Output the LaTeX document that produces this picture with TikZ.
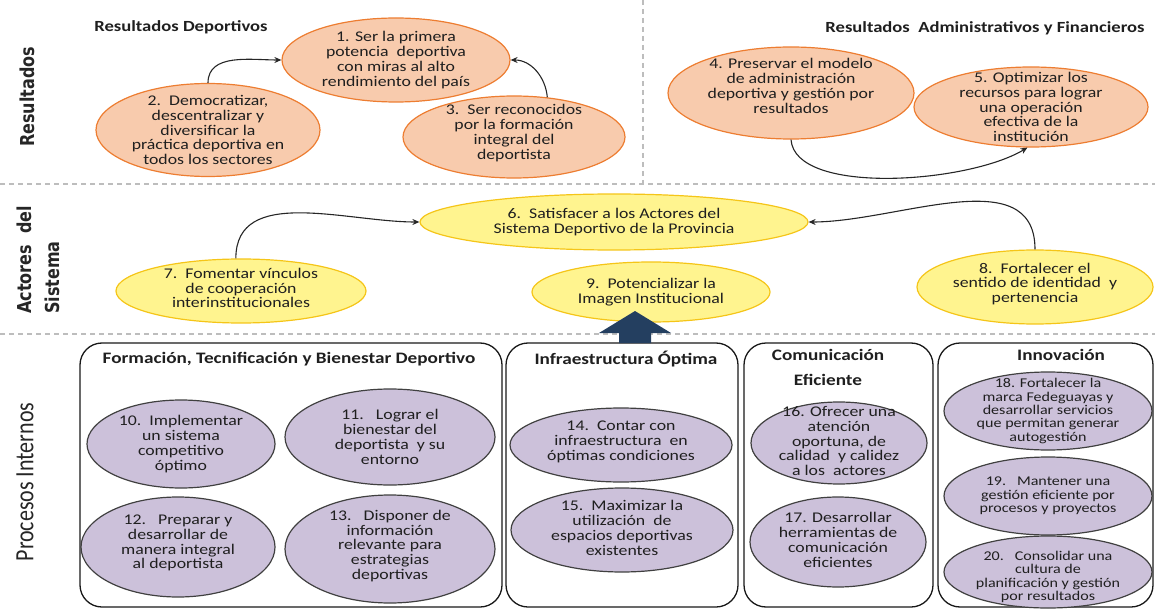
\documentclass[tikz,border=0pt]{standalone}
\usepackage{fontspec}
\setmainfont{Carlito}[FakeStretch=1.2]
\newfontfamily\labfont{DejaVu Sans}
\newfontfamily\calfont{Carlito}
\usetikzlibrary{arrows.meta,shapes.geometric}
\definecolor{orfill}{HTML}{F8CBAD}
\definecolor{ordraw}{HTML}{ED7D31}
\definecolor{yefill}{HTML}{FFF48F}
\definecolor{yedraw}{HTML}{F5C518}
\definecolor{pufill}{HTML}{CCC1DA}
\definecolor{pudraw}{HTML}{404040}
\definecolor{navy}{HTML}{243F60}
\definecolor{sepgray}{HTML}{BDBDBD}
\tikzset{
  ov/.style={ellipse, inner sep=0pt, line width=1.2pt},
  orov/.style={ov, fill=orfill, draw=ordraw},
  yeov/.style={ov, fill=yefill, draw=yedraw},
  puov/.style={ov, fill=pufill, draw=pudraw},
  txt/.style={align=center, inner sep=0pt, text=black!88, font=\fontsize{14.8}{14.8}\selectfont},
  stxt/.style={txt, font=\fontsize{13.4}{13.4}\selectfont},
  panel/.style={draw=black!90, line width=1.3pt, rounded corners=22pt, inner sep=0pt},
  ttl/.style={font=\bfseries\fontsize{16}{16}\selectfont, inner sep=0pt, text=black!88},
  htl/.style={font=\bfseries\fontsize{15.5}{15.5}\selectfont, inner sep=0pt, text=black!88},
  arr/.style={-{Stealth[length=7pt,width=6pt]}, line width=1.1pt, black!85},
  sepline/.style={draw=sepgray, dash pattern=on 5pt off 4pt, line width=1.2pt},
  rowlab/.style={rotate=90, inner sep=0pt, text=black!85},
}
\begin{document}
\begin{tikzpicture}[x=1pt,y=-1pt]
\useasboundingbox (0,0) rectangle (1155,609);
\clip (0,0) rectangle (1155,609);

% separators
\draw[sepline] (0,184) -- (1155,184);
\draw[sepline] (0,334) -- (1155,334);
\draw[sepline] (643,0) -- (643,184);

% row labels
\node[rowlab] (lres) at (27,97) {\scalebox{1}[1.2]{\labfont\bfseries\fontsize{16}{16}\selectfont Resultados}};
\node[rowlab, anchor=west] (lact) at (41,314) {\scalebox{1}[1.2]{\labfont\bfseries\fontsize{16}{16}\selectfont\begin{tabular}{@{}l@{}}Actores\ \ del\\[7pt]Sistema\end{tabular}}};
\node[rowlab] (lpro) at (25,482) {\scalebox{1}[1.2]{\calfont\fontsize{22}{22}\selectfont Procesos Internos}};

% headings
\node[htl] (hdep) at (181,27) {Resultados Deportivos};
\node[htl] (hadm) at (985,28) {Resultados\ \ Administrativos y Financieros};

% Resultados
\node[orov, minimum width=228pt, minimum height=84pt,
  label={[txt]center:1. Ser la primera\\potencia\ \ deportiva\\con miras al alto\\rendimiento del país}] (e1) at (396,60) {};
\node[orov, minimum width=224pt, minimum height=93pt,
  label={[txt]center:2.\ \ Democratizar,\\descentralizar y\\diversificar la\\práctica deportiva en\\todos los sectores}] (e2) at (208,130) {};
\node[orov, minimum width=222pt, minimum height=82pt,
  label={[txt, yshift=4pt]center:3.\ \ Ser reconocidos\\por la formación\\integral del\\deportista}] (e3) at (514,137) {};
\node[orov, minimum width=246pt, minimum height=92pt,
  label={[txt, yshift=7pt]center:4. Preservar el modelo\\de administración\\deportiva y gestión por\\resultados}] (e4) at (791,93) {};
\node[orov, minimum width=234pt, minimum height=80pt,
  label={[txt]center:5. Optimizar los\\recursos para lograr\\una operación\\efectiva de la\\institución}] (e5) at (1031,107) {};

\draw[arr] (e2.north) to[out=90,in=180] (e1.west);
\draw[arr] (e3.50) to[out=95,in=0] (e1.east);
\draw[arr] (e4.south) .. controls +(4,56) and +(-60,36) .. (e5.-95);

% Actores del sistema
\node[yeov, minimum width=388pt, minimum height=56pt,
  label={[txt]center:6.\ \ Satisfacer a los Actores del\\Sistema Deportivo de la Provincia}] (e6) at (614,222) {};
\node[yeov, minimum width=250pt, minimum height=64pt,
  label={[txt, yshift=3pt]center:7.\ \ Fomentar vínculos\\de cooperación\\interinstitucionales}] (e7) at (241,291) {};
\node[yeov, minimum width=238pt, minimum height=60pt,
  label={[txt]center:9.\ \ Potencializar la\\Imagen Institucional}] (e9) at (651,292) {};
\node[yeov, minimum width=236pt, minimum height=74pt,
  label={[txt, yshift=3pt]center:8.\ \ Fortalecer el\\sentido de identidad\ \ y\\pertenencia}] (e8) at (1035,287) {};

\draw[arr] (e7.99) to[out=90,in=180] (e6.west);
\draw[arr] (e8.north) to[out=90,in=0] (e6.east);

% Procesos internos panels
\node[panel, minimum width=422pt, minimum height=264pt] (pA) at (291,475) {};
\node[panel, minimum width=232pt, minimum height=264pt] (pB) at (622,475) {};
\node[panel, minimum width=189pt, minimum height=264pt] (pC) at (838.5,475) {};
\node[panel, minimum width=215pt, minimum height=264pt] (pD) at (1045.5,475) {};

% block arrow from panel B up to e9
\coordinate (bt) at (635,311);
\fill[navy] (bt) -- ++(36,22) -- ++(-20,0) -- (651,343) -- (619,343) -- (619,333) -- ++(-20,0) -- cycle;

\node[ttl] (tA) at (289,359) {Formación, Tecnificación y Bienestar Deportivo};
\node[ttl] (tB) at (626,359) {Infraestructura Óptima};
\node[ttl, align=center, font=\bfseries\fontsize{16}{25}\selectfont] (tC) at (828,367) {Comunicación\\Eficiente};
\node[ttl] (tD) at (1061,355) {Innovación};

\node[puov, minimum width=188pt, minimum height=88pt,
  label={[txt]center:10.\ \ Implementar\\un sistema\\competitivo\\óptimo}] (e10) at (181,444) {};
\node[puov, minimum width=210pt, minimum height=96pt,
  label={[txt]center:11.\ \ \ Lograr el\\bienestar del\\deportista\ \ y su\\entorno}] (e11) at (390,437) {};
\node[puov, minimum width=194pt, minimum height=100pt,
  label={[txt, yshift=4pt]center:12.\ \ \ Preparar y\\desarrollar de\\manera integral\\al deportista}] (e12) at (178,547) {};
\node[puov, minimum width=210pt, minimum height=108pt,
  label={[txt, yshift=3pt]center:13.\ \ \ Disponer de\\información\\relevante para\\estrategias\\deportivas}] (e13) at (390,549) {};

\node[puov, minimum width=222pt, minimum height=74pt,
  label={[txt, yshift=3pt]center:14.\ \ Contar con\\infraestructura\ \ en\\óptimas condiciones}] (e14) at (621,445) {};
\node[puov, minimum width=222pt, minimum height=84pt,
  label={[txt, yshift=2pt]center:15.\ \ Maximizar la\\utilización\ \ de\\espacios deportivas\\existentes}] (e15) at (622,530) {};

\node[puov, minimum width=176pt, minimum height=82pt,
  label={[txt, yshift=2pt]center:16. Ofrecer una\\atención\\oportuna, de\\calidad\ \ y calidez\\a los\ \ actores}] (e16) at (839,443) {};
\node[puov, minimum width=176pt, minimum height=90pt,
  label={[txt, yshift=2pt]center:17. Desarrollar\\herramientas de\\comunicación\\eficientes}] (e17) at (838,542) {};

\node[puov, minimum width=208pt, minimum height=78pt,
  label={[stxt]center:18. Fortalecer la\\marca Fedeguayas y\\desarrollar servicios\\que permitan generar\\autogestión}] (e18) at (1048,411) {};
\node[puov, minimum width=208pt, minimum height=78pt,
  label={[stxt]center:19.\ \ \ Mantener una\\gestión eficiente por\\procesos y proyectos}] (e19) at (1048,496) {};
\node[puov, minimum width=208pt, minimum height=72pt,
  label={[stxt, yshift=-5pt]center:20.\ \ \ Consolidar una\\cultura de\\planificación y gestión\\por resultados}] (e20) at (1048,572) {};
\end{tikzpicture}
\end{document}
